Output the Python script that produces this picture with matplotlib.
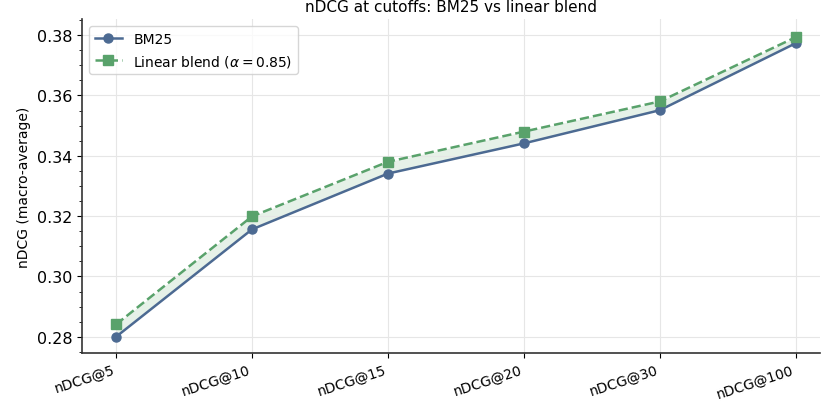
import matplotlib
matplotlib.use('Agg')
import matplotlib.pyplot as plt
from matplotlib.ticker import MultipleLocator

cutoffs = ['nDCG@5', 'nDCG@10', 'nDCG@15', 'nDCG@20', 'nDCG@30', 'nDCG@100']
bm25 = [0.2800, 0.3156, 0.3341, 0.3441, 0.3551, 0.3773]
blend = [0.2841, 0.3199, 0.3380, 0.3480, 0.3580, 0.3793]

fig, ax = plt.subplots(figsize=(8.21, 4.02), dpi=100)
x = list(range(len(cutoffs)))

ax.plot(x, bm25, marker='o', color='#4c6a92', lw=1.8, ms=6.5, label='BM25')
ax.plot(x, blend, marker='s', ls='--', color='#59a26b', lw=1.8, ms=6.5,
        label=r'Linear blend ($\alpha = 0.85$)')
ax.fill_between(x, bm25, blend, color='#59a26b', alpha=0.15, lw=0)

ax.set_xticks(x)
ax.set_xticklabels(cutoffs, rotation=18, ha='right')
ax.set_xlim(-0.25, 5.18)
ax.set_ylim(0.2747, 0.3853)
ax.set_yticks([0.28, 0.30, 0.32, 0.34, 0.36, 0.38])
ax.yaxis.set_minor_locator(MultipleLocator(0.005))
ax.tick_params(axis='y', labelsize=11.5)
ax.tick_params(axis='x', labelsize=10)
ax.set_ylabel('nDCG (macro-average)', fontsize=10)
ax.set_title('nDCG at cutoffs: BM25 vs linear blend', fontsize=11)
ax.grid(True, which='major', color='#e6e6e6', lw=0.8)
ax.spines['top'].set_visible(False)
ax.spines['right'].set_visible(False)
for s in ('left', 'bottom'):
    ax.spines[s].set_color('#333333')
    ax.spines[s].set_linewidth(1.2)
ax.legend(loc='upper left', fontsize=10)

fig.subplots_adjust(left=0.1, right=0.999, top=0.95, bottom=0.12)
fig.savefig('out.png')
